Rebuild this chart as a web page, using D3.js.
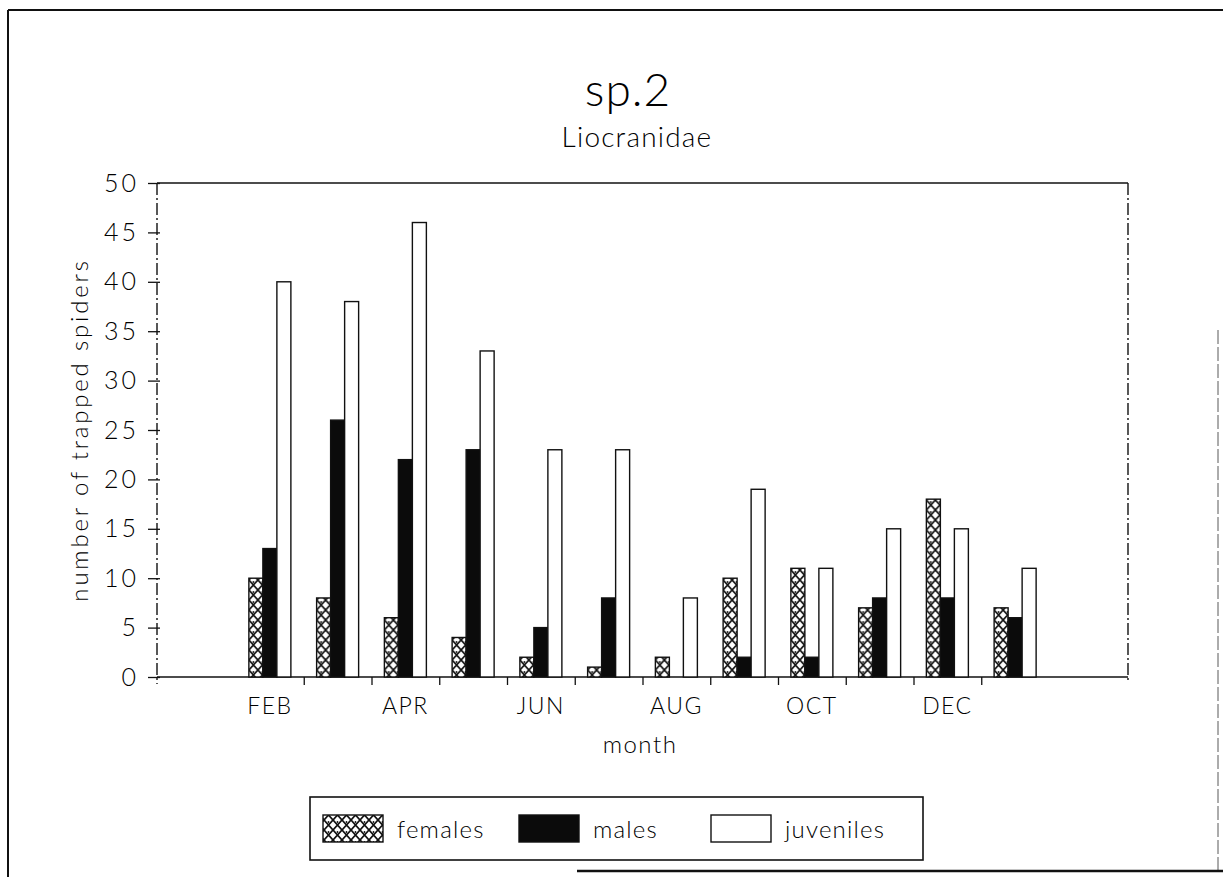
<!DOCTYPE html>
<html>
<head>
<meta charset="utf-8">
<script src="https://cdn.jsdelivr.net/npm/d3@7"></script>
<style>
  html, body { margin: 0; padding: 0; background: #fff; }
  svg { display: block; font-family: Lato, "Open Sans", sans-serif; font-weight: 300; }
  text { fill: #000; }
</style>
</head>
<body>
<svg id="chart" width="1223" height="877"></svg>
<script>
// Monthly catches of Liocranidae sp.2, split by sex / stage
const months = ["FEB", "MAR", "APR", "MAY", "JUN", "JUL", "AUG", "SEP", "OCT", "NOV", "DEC", "JAN"];
const monthLabels = ["FEB", "APR", "JUN", "AUG", "OCT", "DEC"];
const seriesNames = ["females", "males", "juveniles"];
const females   = [10, 8, 6, 4, 2, 1, 2, 10, 11, 7, 18, 7];
const males     = [13, 26, 22, 23, 5, 8, 0, 2, 2, 8, 8, 6];
const juveniles = [40, 38, 46, 33, 23, 23, 8, 19, 11, 15, 15, 11];
const yTicks = [0, 5, 10, 15, 20, 25, 30, 35, 40, 45, 50];

const seriesValues = { females, males, juveniles };
const rows = months.map((m, i) => ({ month: m, values: seriesNames.map(s => ({ key: s, value: seriesValues[s][i] })) }));

const svg = d3.select("#chart");
const ink = "#111";

// pattern fills
const defs = svg.append("defs");
const hatch = defs.append("pattern")
  .attr("id", "crosshatch").attr("patternUnits", "userSpaceOnUse")
  .attr("width", 9).attr("height", 10);
hatch.append("rect").attr("width", 9).attr("height", 10).attr("fill", "#fff");
hatch.append("path").attr("d", "M0,0L9,10M9,0L0,10")
  .attr("stroke", ink).attr("stroke-width", 1.7).attr("fill", "none");
hatch.append("circle").attr("cx", 4.5).attr("cy", 2).attr("r", 0.9).attr("fill", ink);

const fills = { females: "url(#crosshatch)", males: "#0b0b0b", juveniles: "#fff" };

// outer frame
const frame = svg.append("g").attr("stroke", ink).attr("fill", "none");
frame.append("line").attr("x1", 8).attr("y1", 10).attr("x2", 1223).attr("y2", 10).attr("stroke-width", 2);
frame.append("line").attr("x1", 8).attr("y1", 10).attr("x2", 8).attr("y2", 877).attr("stroke-width", 2);
frame.append("line").attr("x1", 1218).attr("y1", 330).attr("x2", 1218).attr("y2", 871).attr("stroke-width", 1).attr("stroke-dasharray", "14,3").attr("stroke-opacity", 0.7);
frame.append("line").attr("x1", 577).attr("y1", 871).attr("x2", 1223).attr("y2", 871).attr("stroke-width", 2.5);

// scales
const y = d3.scaleLinear().domain([0, 50]).range([677, 183]);
const x0 = d3.scaleBand().domain(months).range([236, 1049]).paddingInner(0.38).paddingOuter(0.19);
const x1 = d3.scaleBand().domain(seriesNames).range([0, x0.bandwidth()]);
const slot = d3.scaleLinear().domain([0, months.length]).range([236, 1049]);
const plotLeft = slot(-1.166), plotRight = slot(13.166);

// plot box
const box = svg.append("g").attr("stroke", ink).attr("fill", "none");
box.append("line").attr("x1", plotLeft).attr("x2", plotRight).attr("y1", y(50)).attr("y2", y(50)).attr("stroke-width", 1.6);
box.append("line").attr("x1", plotRight).attr("x2", plotRight).attr("y1", y(50)).attr("y2", y(0) + 6)
  .attr("stroke-width", 1.4).attr("stroke-dasharray", "12,3,2,3");
box.append("line").attr("x1", plotLeft).attr("x2", plotLeft).attr("y1", y(50)).attr("y2", y(0) + 7)
  .attr("stroke-width", 1.4).attr("stroke-dasharray", "12,3,2,3");
box.append("line").attr("x1", plotLeft).attr("x2", plotRight).attr("y1", y(0)).attr("y2", y(0)).attr("stroke-width", 1.5);

// y axis
const yAxis = svg.append("g").attr("transform", `translate(${plotLeft},0)`)
  .call(d3.axisLeft(y).tickValues(yTicks).tickSize(9).tickPadding(9));
yAxis.select(".domain").remove();
yAxis.selectAll(".tick line").attr("x2", -9).attr("x1", 3).attr("stroke", ink).attr("stroke-width", 1.3);
yAxis.selectAll(".tick text").attr("font-size", 25).attr("letter-spacing", 3).attr("font-family", "Lato, sans-serif").attr("fill", "#000");

// x axis: tick marks between months, labels every second month
const xTicks = svg.append("g").attr("transform", `translate(0,${y(0)})`)
  .call(d3.axisBottom(slot).tickValues(d3.range(1, months.length)).tickSize(8).tickFormat(""));
xTicks.select(".domain").remove();
xTicks.selectAll(".tick line").attr("stroke", ink).attr("stroke-width", 1.3);

const xLabels = svg.append("g").attr("transform", `translate(0,${y(0)})`)
  .call(d3.axisBottom(x0).tickValues(monthLabels).tickSize(0).tickPadding(21));
xLabels.select(".domain").remove();
xLabels.selectAll(".tick text").attr("font-size", 23).attr("letter-spacing", 1.5).attr("font-family", "Lato, sans-serif").attr("fill", "#000");

// bars
const groups = svg.append("g").selectAll("g").data(rows).join("g")
  .attr("transform", d => `translate(${x0(d.month)},0)`);
groups.selectAll("rect").data(d => d.values).join("rect")
  .attr("x", d => x1(d.key))
  .attr("y", d => y(d.value))
  .attr("width", x1.bandwidth())
  .attr("height", d => y(0) - y(d.value))
  .attr("fill", d => fills[d.key])
  .attr("stroke", ink)
  .attr("stroke-width", d => d.value > 0 ? 1.4 : 0);

// titles
svg.append("text").attr("x", 628).attr("y", 106).attr("text-anchor", "middle")
  .attr("font-size", 46).attr("letter-spacing", 1).text("sp.2");
svg.append("text").attr("x", 637).attr("y", 147).attr("text-anchor", "middle")
  .attr("font-size", 28).attr("letter-spacing", 1.2).text("Liocranidae");
svg.append("text").attr("transform", `translate(88,${(y(0) + y(50)) / 2}) rotate(-90)`)
  .attr("text-anchor", "middle").attr("font-size", 24).attr("letter-spacing", 2.8)
  .text("number of trapped spiders");
svg.append("text").attr("x", 640).attr("y", 753).attr("text-anchor", "middle")
  .attr("font-size", 24).attr("letter-spacing", 1.5).text("month");

// legend
const legend = svg.append("g");
legend.append("rect").attr("x", 310).attr("y", 797).attr("width", 613).attr("height", 63)
  .attr("fill", "#fff").attr("stroke", ink).attr("stroke-width", 1.6);
const legendItems = [
  { key: "females", sx: 323, tx: 397 },
  { key: "males", sx: 519, tx: 593 },
  { key: "juveniles", sx: 711, tx: 785 }
];
legendItems.forEach(it => {
  legend.append("rect").attr("x", it.sx).attr("y", 815).attr("width", 60).attr("height", 27)
    .attr("fill", fills[it.key]).attr("stroke", ink).attr("stroke-width", 1.4);
  legend.append("text").attr("x", it.tx).attr("y", 838).attr("font-size", 24)
    .attr("letter-spacing", 1.2).text(it.key);
});
</script>
</body>
</html>
